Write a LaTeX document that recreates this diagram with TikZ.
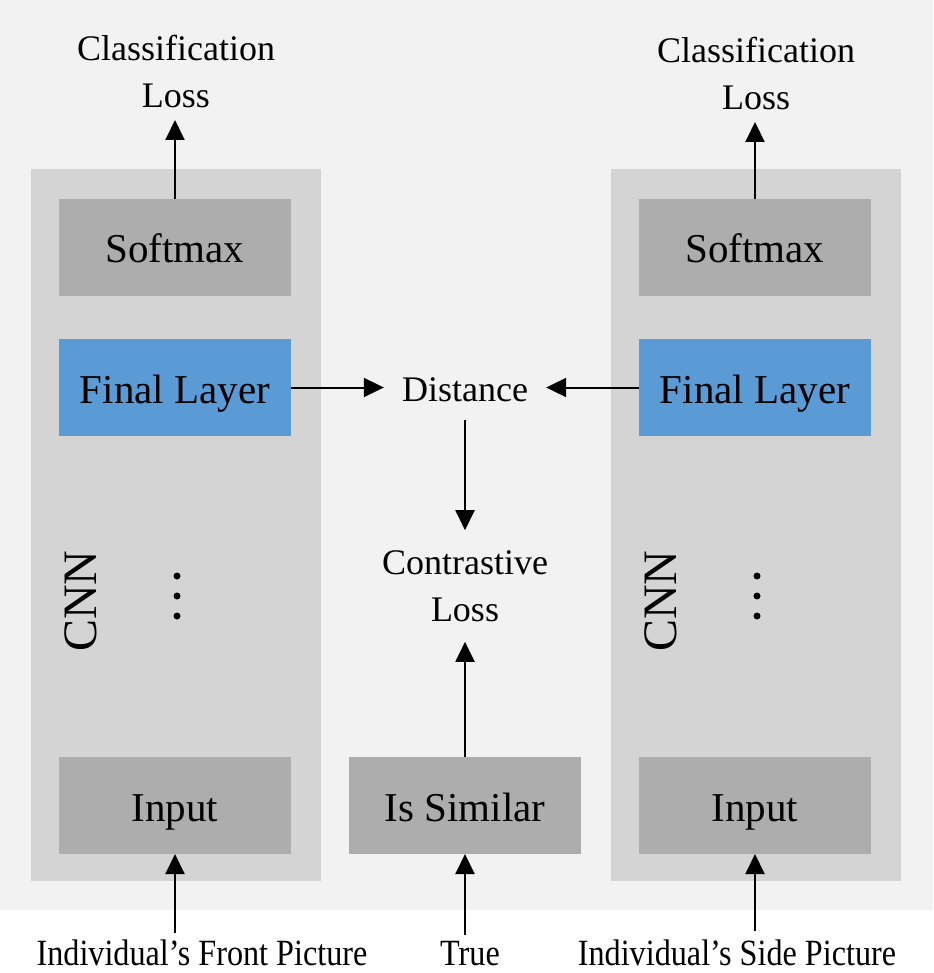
\documentclass[tikz,border=0pt]{standalone}
\usepackage{fontspec}
\setmainfont{Liberation Serif}
\usetikzlibrary{arrows.meta}
\definecolor{bgc}{HTML}{F2F2F2}
\definecolor{panelc}{HTML}{D4D4D4}
\definecolor{boxc}{HTML}{ADADAD}
\definecolor{bluec}{HTML}{5B9BD5}
\tikzset{
  panel/.style={fill=panelc, draw=none, minimum width=290pt, minimum height=712pt, inner sep=0pt, outer sep=0pt},
  graybox/.style={fill=boxc, draw=none, minimum width=232pt, minimum height=97pt, inner sep=0pt, outer sep=0pt, text height=31pt, text depth=0pt, font=\fontsize{41}{49}\selectfont},
  bluebox/.style={graybox, fill=bluec},
  txt/.style={align=center, font=\fontsize{36}{47}\selectfont},
  bottxt/.style={font=\fontsize{37}{44}\selectfont, inner xsep=0pt, inner ysep=0pt, anchor=base},
  arr/.style={line width=2pt, -{Triangle[length=20pt,width=19pt]}},
}
\begin{document}
\begin{tikzpicture}[x=1pt,y=-1pt]
\useasboundingbox (0,0) rectangle (933,973);
\fill[bgc] (0,0) rectangle (933,910);
% panels
\node[panel] (pL) at (176,525) {};
\node[panel] (pR) at (756,525) {};
% left column
\node[graybox] (smL) at (175,247.5) {Softmax};
\node[bluebox] (flL) at (175,387.5) {Final Layer};
\node[graybox] (inL) at (175,805.5) {Input};
\node[rotate=90, font=\fontsize{48}{56}\selectfont, inner sep=0pt] (cnnL) at (81,601) {CNN};
% right column
\node[graybox] (smR) at (755,247.5) {Softmax};
\node[bluebox] (flR) at (755,387.5) {Final Layer};
\node[graybox] (inR) at (755,805.5) {Input};
\node[rotate=90, font=\fontsize{48}{56}\selectfont, inner sep=0pt] (cnnR) at (661,601) {CNN};
% dots
\foreach \yy in {576,596,616} {
  \fill (177,\yy) circle (3.5pt);
  \fill (757,\yy) circle (3.5pt);
}
% middle
\node[graybox] (sim) at (465,805.5) {Is Similar};
\node[txt, inner xsep=18pt, inner ysep=18pt, anchor=base] (dist) at (465,401) {Distance};
\node[txt, inner sep=20pt] (cont) at (465,586) {Contrastive\\Loss};
% top labels
\node[txt, anchor=south, inner sep=12pt] (clL) at (176,120) {Classification\\Loss};
\node[txt, anchor=south, inner sep=12pt] (clR) at (756,122) {Classification\\Loss};
% bottom labels
\node[bottxt] (bL) at (202,965) {\scalebox{0.87}[1]{Individual’s Front Picture}};
\node[bottxt] (bM) at (470,965) {\scalebox{0.87}[1]{True}};
\node[bottxt] (bR) at (737,965) {\scalebox{0.87}[1]{Individual’s Side Picture}};
\coordinate (tL) at (175,933);
\coordinate (tM) at (465,935);
\coordinate (tR) at (755,931);
% arrows
\draw[arr] (smL.north) -- (smL.north |- clL.south);
\draw[arr] (smR.north) -- (smR.north |- clR.south);
\draw[arr] (flL.east) -- (flL.east -| dist.west);
\draw[arr] (flR.west) -- (flR.west -| dist.east);
\draw[arr] (dist.south) -- (cont.north);
\draw[arr] (sim.north) -- (cont.south);
\draw[arr] (tL) -- (inL.south);
\draw[arr] (tM) -- (sim.south);
\draw[arr] (tR) -- (inR.south);
\end{tikzpicture}
\end{document}
